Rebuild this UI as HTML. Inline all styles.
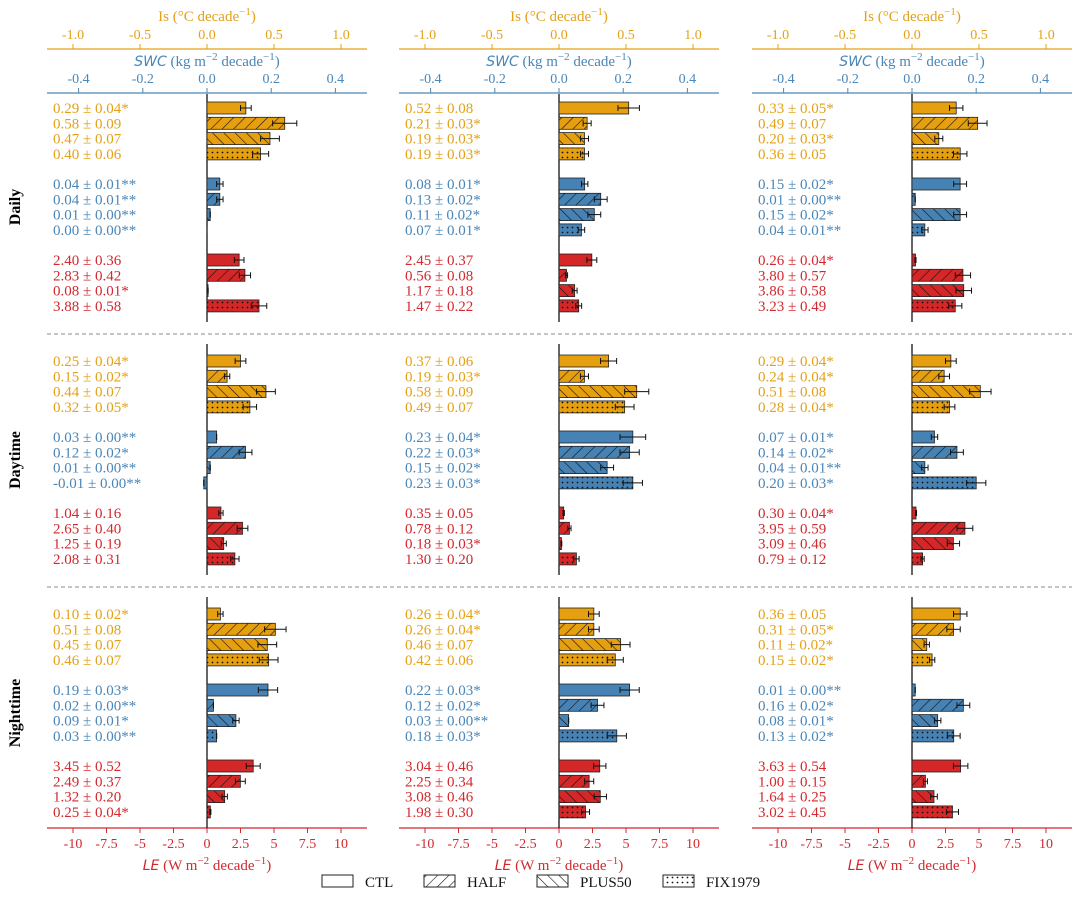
<!DOCTYPE html>
<html><head><meta charset="utf-8">
<style>
html,body{margin:0;padding:0;background:#fff;}
svg{display:block;font-family:"Liberation Serif",serif;}
</style></head>
<body>
<svg id="chart" width="1080" height="904" viewBox="0 0 1080 904" xmlns="http://www.w3.org/2000/svg">
<defs>
<pattern id="p-half" patternUnits="userSpaceOnUse" width="8" height="8" patternTransform="rotate(45)">
<line x1="0" y1="0" x2="0" y2="8" stroke="#111" stroke-width="1.2"/></pattern>
<pattern id="p-plus" patternUnits="userSpaceOnUse" width="8" height="8" patternTransform="rotate(-45)">
<line x1="0" y1="0" x2="0" y2="8" stroke="#111" stroke-width="1.2"/></pattern>
<pattern id="p-fix" patternUnits="userSpaceOnUse" width="5" height="5">
<circle cx="2.5" cy="2.5" r="0.9" fill="#111"/></pattern>
</defs>
<g id="plot"></g>
</svg>
<script>
const scenarios = ["CTL","HALF","PLUS50","FIX1979"];
const periods = ["Daily","Daytime","Nighttime"];
const variables = ["Is","SWC","LE"];
const isTicks = ["-1.0","-0.5","0.0","0.5","1.0"];
const swcTicks = ["-0.4","-0.2","0.0","0.2","0.4"];
const leTicks = ["-10","-7.5","-5","-2.5","0","2.5","5","7.5","10"];
// values[panel][period][variable][scenario]
const panel1Values = [
 [[0.29,0.58,0.47,0.40],[0.04,0.04,0.01,0.00],[2.40,2.83,0.08,3.88]],
 [[0.25,0.15,0.44,0.32],[0.03,0.12,0.01,-0.01],[1.04,2.65,1.25,2.08]],
 [[0.10,0.51,0.45,0.46],[0.19,0.02,0.09,0.03],[3.45,2.49,1.32,0.25]]];
const panel1Errors = [
 [[0.04,0.09,0.07,0.06],[0.01,0.01,0.00,0.00],[0.36,0.42,0.01,0.58]],
 [[0.04,0.02,0.07,0.05],[0.00,0.02,0.00,0.00],[0.16,0.40,0.19,0.31]],
 [[0.02,0.08,0.07,0.07],[0.03,0.00,0.01,0.00],[0.52,0.37,0.20,0.04]]];
const panel1Stars = [
 [["*","","",""],["**","**","**","**"],["","","*",""]],
 [["*","*","","*"],["**","*","**","**"],["","","",""]],
 [["*","","",""],["*","**","*","**"],["","","","*"]]];
const panel2Values = [
 [[0.52,0.21,0.19,0.19],[0.08,0.13,0.11,0.07],[2.45,0.56,1.17,1.47]],
 [[0.37,0.19,0.58,0.49],[0.23,0.22,0.15,0.23],[0.35,0.78,0.18,1.30]],
 [[0.26,0.26,0.46,0.42],[0.22,0.12,0.03,0.18],[3.04,2.25,3.08,1.98]]];
const panel2Errors = [
 [[0.08,0.03,0.03,0.03],[0.01,0.02,0.02,0.01],[0.37,0.08,0.18,0.22]],
 [[0.06,0.03,0.09,0.07],[0.04,0.03,0.02,0.03],[0.05,0.12,0.03,0.20]],
 [[0.04,0.04,0.07,0.06],[0.03,0.02,0.00,0.03],[0.46,0.34,0.46,0.30]]];
const panel2Stars = [
 [["","*","*","*"],["*","*","*","*"],["","","",""]],
 [["","*","",""],["*","*","*","*"],["","","*",""]],
 [["*","*","",""],["*","*","**","*"],["","","",""]]];
const panel3Values = [
 [[0.33,0.49,0.20,0.36],[0.15,0.01,0.15,0.04],[0.26,3.80,3.86,3.23]],
 [[0.29,0.24,0.51,0.28],[0.07,0.14,0.04,0.20],[0.30,3.95,3.09,0.79]],
 [[0.36,0.31,0.11,0.15],[0.01,0.16,0.08,0.13],[3.63,1.00,1.64,3.02]]];
const panel3Errors = [
 [[0.05,0.07,0.03,0.05],[0.02,0.00,0.02,0.01],[0.04,0.57,0.58,0.49]],
 [[0.04,0.04,0.08,0.04],[0.01,0.02,0.01,0.03],[0.04,0.59,0.46,0.12]],
 [[0.05,0.05,0.02,0.02],[0.00,0.02,0.01,0.02],[0.54,0.15,0.25,0.45]]];
const panel3Stars = [
 [["*","","*",""],["*","**","*","**"],["*","","",""]],
 [["*","*","","*"],["*","*","**","*"],["*","","",""]],
 [["","*","*","*"],["**","*","*","*"],["","","",""]]];

const NS="http://www.w3.org/2000/svg";
const g=document.getElementById('plot');
function el(tag,attrs,parent,text){const e=document.createElementNS(NS,tag);for(const k in attrs)e.setAttribute(k,attrs[k]);if(text!==undefined)e.textContent=text;(parent||g).appendChild(e);return e;}
const colText={Is:"#E3A117",SWC:"#4A86B8",LE:"#D2282E"};
const colFill={Is:"#E69F0E",SWC:"#4682B4",LE:"#D62728"};
const fills=["none","url(#p-half)","url(#p-plus)","url(#p-fix)"];
const panelZeros=[207,559,912];
const pxPerUnit={Is:134,SWC:321,LE:13.4};
const allValues=[panel1Values,panel2Values,panel3Values];
const allErrors=[panel1Errors,panel2Errors,panel3Errors];
const allStars=[panel1Stars,panel2Stars,panel3Stars];
function fmt(v){return v.toFixed(2);}
function xs(p,varName,v){return panelZeros[p]+v*pxPerUnit[varName];}

for(let p=0;p<3;p++){
  const z=panelZeros[p], L=z-160, R=z+160;
  const pg=el('g',{},g);
  
  
  // Is axis
  const ia=el('line',{x1:L,x2:R,y1:49,y2:49,stroke:colText.Is,'stroke-width':1.2},pg);
  
  isTicks.forEach(t=>{const x=xs(p,'Is',parseFloat(t));
    el('line',{x1:x,x2:x,y1:44,y2:49,stroke:colText.Is},pg);
    const tt=el('text',{x:x,y:39,'text-anchor':'middle','font-size':14,fill:colText.Is},pg,t);
    });
  const it=el('text',{x:z,y:21,'text-anchor':'middle','font-size':15,fill:colText.Is},pg);
  
  it.innerHTML='Is (°C decade<tspan dy="-6" font-size="11">−1</tspan><tspan dy="6">)</tspan>';
  // SWC axis
  const sa=el('line',{x1:L,x2:R,y1:93,y2:93,stroke:colText.SWC,'stroke-width':1.2},pg);
  
  swcTicks.forEach(t=>{const x=xs(p,'SWC',parseFloat(t));
    el('line',{x1:x,x2:x,y1:88,y2:93,stroke:colText.SWC},pg);
    const tt=el('text',{x:x,y:83,'text-anchor':'middle','font-size':14,fill:colText.SWC},pg,t);
    });
  const st=el('text',{x:z,y:66,'text-anchor':'middle','font-size':15,fill:colText.SWC},pg);
  
  st.innerHTML='<tspan font-family="DejaVu Sans, sans-serif" font-style="oblique" font-size="14">SWC</tspan> (kg m<tspan dy="-6" font-size="11">−2</tspan><tspan dy="6"> decade</tspan><tspan dy="-6" font-size="11">−1</tspan><tspan dy="6">)</tspan>';
  // LE axis
  const la=el('line',{x1:L,x2:R,y1:828,y2:828,stroke:colText.LE,'stroke-width':1.2},pg);
  
  leTicks.forEach(t=>{const x=xs(p,'LE',parseFloat(t));
    el('line',{x1:x,x2:x,y1:828,y2:833,stroke:colText.LE},pg);
    const tt=el('text',{x:x,y:848,'text-anchor':'middle','font-size':14,fill:colText.LE},pg,t);
    });
  const lt=el('text',{x:z,y:870,'text-anchor':'middle','font-size':15,fill:colText.LE},pg);
  
  lt.innerHTML='<tspan font-family="DejaVu Sans, sans-serif" font-style="oblique" font-size="14">LE</tspan> (W m<tspan dy="-6" font-size="11">−2</tspan><tspan dy="6"> decade</tspan><tspan dy="-6" font-size="11">−1</tspan><tspan dy="6">)</tspan>';
  // rows
  for(let r=0;r<3;r++){
    const base=108+r*253;
    const zl=el('line',{x1:z,x2:z,y1:r==0?94:base-17,y2:r==2?828:base+214,stroke:'#000','stroke-width':1.2},pg);
    
    for(let v=0;v<3;v++){
      const vn=variables[v];
      for(let s=0;s<4;s++){
        const cy=base+v*76+s*15.3;
        const val=allValues[p][r][v][s], err=allErrors[p][r][v][s];
        const lab=el('text',{x:L+6,y:cy+5,'font-size':15,fill:colText[vn]},pg,fmt(val)+' ± '+fmt(err)+allStars[p][r][v][s]);
        
        const x0=xs(p,vn,0), x1=xs(p,vn,val);
        const bx=Math.min(x0,x1), bw=Math.abs(x1-x0);
        const b=el('rect',{x:bx,y:cy-6,width:bw,height:12,fill:colFill[vn],stroke:'#222','stroke-width':0.8},pg);
        
        
        if(s>0){const h=el('rect',{x:bx,y:cy-6,width:bw,height:12,fill:fills[s],stroke:'none'},pg);
          }
        const ea=xs(p,vn,val-err), eb=xs(p,vn,val+err);
        const eg=el('g',{stroke:'#111','stroke-width':1},pg);
        
        el('line',{x1:ea,x2:eb,y1:cy,y2:cy},eg);
        el('line',{x1:ea,x2:ea,y1:cy-3,y2:cy+3},eg);
        el('line',{x1:eb,x2:eb,y1:cy-3,y2:cy+3},eg);
      }
    }
  }
}
// separators
[334,587].forEach(y=>{const d=el('line',{x1:47,x2:1072,y1:y,y2:y,stroke:'#888','stroke-width':1,'stroke-dasharray':'4,3'});
  });
// row labels
periods.forEach((t,i)=>{const cy=207+i*253;
  const tx=el('text',{x:0,y:0,transform:'translate(20,'+cy+') rotate(-90)','text-anchor':'middle','font-size':16,'font-weight':'bold',fill:'#000'},g,t);
  });
// legend
const legBox=[322,424,537,663];
scenarios.forEach((s,i)=>{
  const lg=el('g',{},g);
  
  
  el('rect',{x:legBox[i],y:875,width:31,height:12,fill:'#fff',stroke:'#222','stroke-width':1},lg);
  if(i>0)el('rect',{x:legBox[i],y:875,width:31,height:12,fill:fills[i],stroke:'#222','stroke-width':1},lg);
  el('text',{x:legBox[i]+43,y:887,'font-size':15,fill:'#111'},lg,s);
});
</script>
</body></html>
